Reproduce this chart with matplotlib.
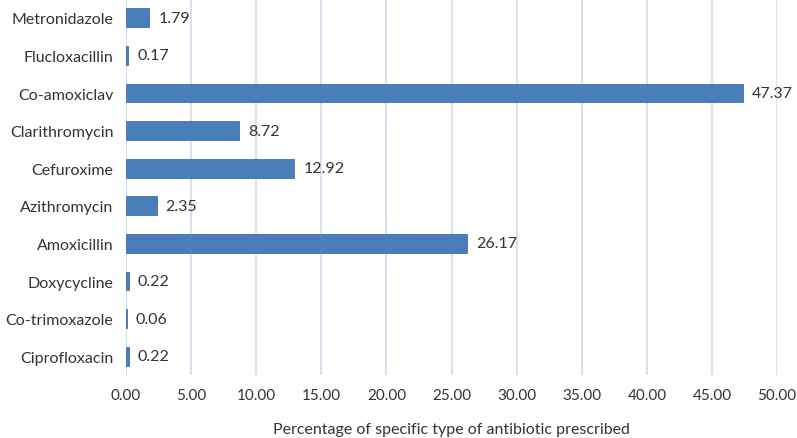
import matplotlib.pyplot as plt

# Antibiotic categories (bottom to top) and percentages
drugs = ["Ciprofloxacin", "Co-trimoxazole", "Doxycycline", "Amoxicillin",
         "Azithromycin", "Cefuroxime", "Clarithromycin", "Co-amoxiclav",
         "Flucloxacillin", "Metronidazole"]
pct = [0.22, 0.06, 0.22, 26.17, 2.35, 12.92, 8.72, 47.37, 0.17, 1.79]
xticks = [0, 5, 10, 15, 20, 25, 30, 35, 40, 45, 50]

plt.rcParams["font.family"] = ["Lato", "DejaVu Sans"]

fig = plt.figure(figsize=(7.97, 4.39), dpi=100)
ax = fig.add_axes([0.158, 0.1435, 0.817, 0.8565])

bars = ax.barh(drugs, pct, height=0.5, color="#4a7ebb", edgecolor="#3f72ad",
               linewidth=0.6, zorder=3)
for b, v in zip(bars, pct):
    ax.text(b.get_width() + 0.7, b.get_y() + b.get_height() / 2, f"{v:.2f}",
            va="center", ha="left", fontsize=11.5, color="#333333")

ax.set_xlim(0, 50)
ax.set_ylim(-0.5, 9.5)
ax.set_xticks(xticks)
ax.set_xticklabels([f"{t:.2f}" for t in xticks])
ax.grid(axis="x", color="#d5e3f0", linewidth=1.5, zorder=0)
ax.set_axisbelow(True)
for s in ax.spines.values():
    s.set_visible(False)
ax.tick_params(length=0, labelsize=11.5, labelcolor="#333333", pad=9)
ax.tick_params(axis="x", labelsize=11)
ax.set_xlabel("Percentage of specific type of antibiotic prescribed",
              fontsize=11.5, color="#333333", labelpad=15)

plt.savefig("out.png", dpi=100)
